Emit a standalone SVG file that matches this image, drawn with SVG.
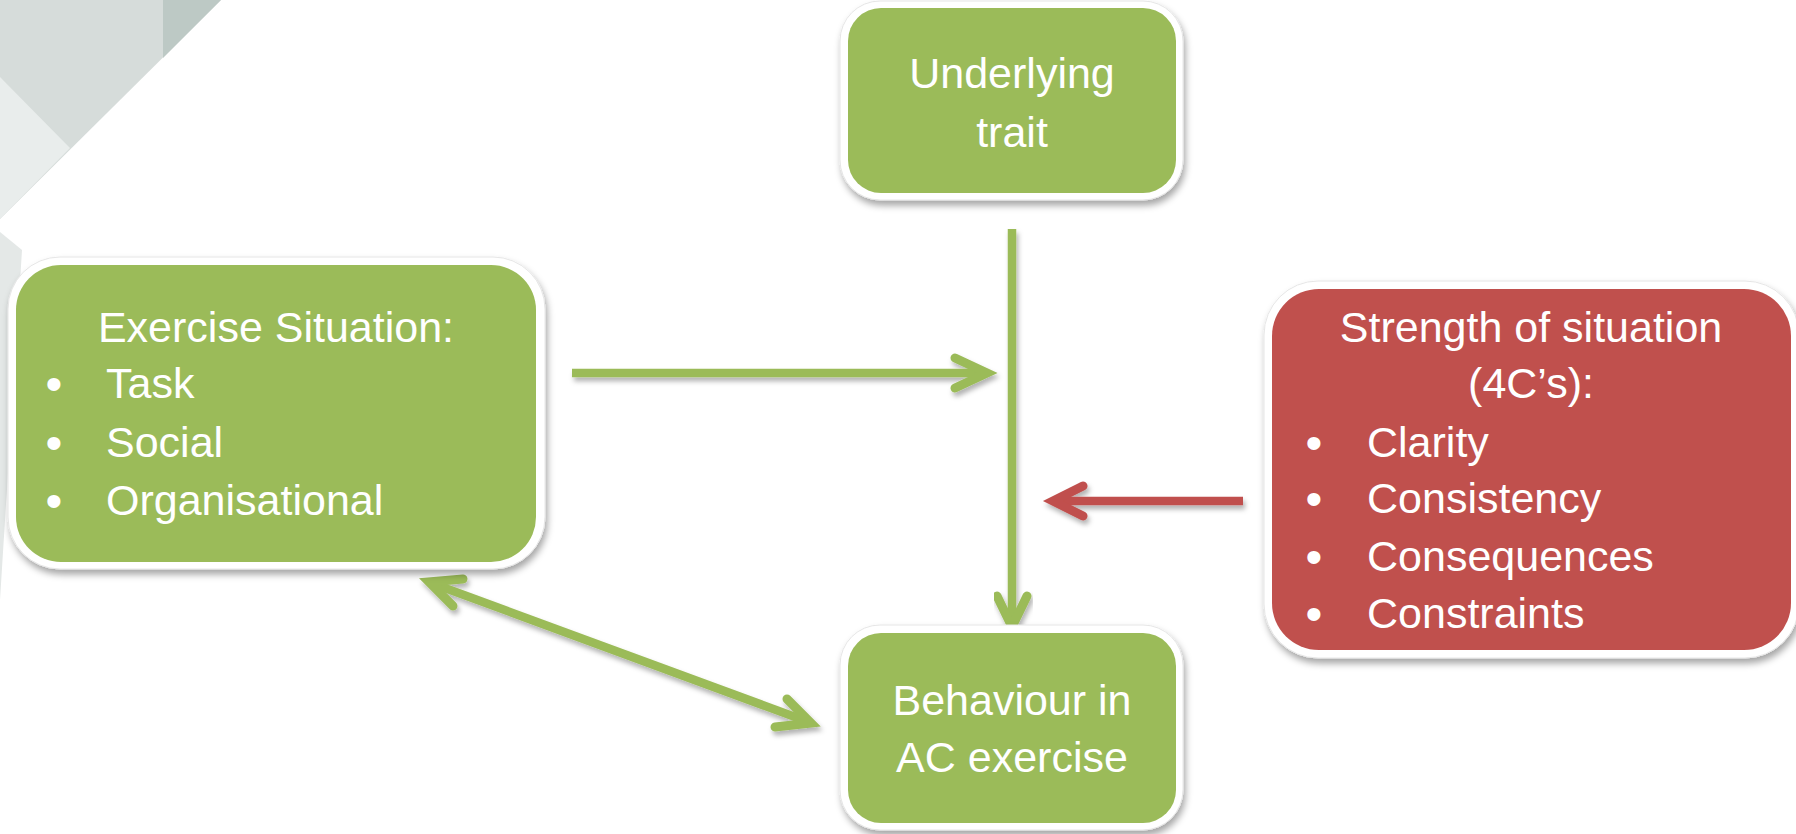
<svg xmlns="http://www.w3.org/2000/svg" width="1796" height="834" viewBox="0 0 1796 834">
  <defs>
    <filter id="shadow" x="-10%" y="-10%" width="130%" height="130%">
      <feDropShadow dx="2" dy="5" stdDeviation="3.5" flood-color="#000" flood-opacity="0.35"/>
    </filter>
    <filter id="ashadow" x="-10%" y="-30%" width="130%" height="180%">
      <feDropShadow dx="2" dy="4" stdDeviation="2.5" flood-color="#000" flood-opacity="0.3"/>
    </filter>
    <style>
      .frame { fill: #ffffff; stroke: #e6e6e6; stroke-width: 1; filter: url(#shadow); }
      .green { fill: #9bbb59; }
      .red { fill: #c0504d; }
      .t { font-family: "Liberation Sans", Arial, sans-serif; fill: #ffffff; font-size: 43px; }
      .c { text-anchor: middle; }
      .b { font-size: 48px; }
      .shaft { fill: none; stroke-width: 8.5; stroke-linecap: butt; }
      .head { fill: none; stroke-width: 9; stroke-linecap: round; stroke-linejoin: miter; stroke-miterlimit: 10; }
      .g { stroke: #9bbb59; }
      .r { stroke: #c0504d; }
    </style>
  </defs>

  <g id="background">
    <rect x="0" y="0" width="1796" height="834" fill="#ffffff"/>
    <polygon points="0,0 221,0 0,219" fill="#d6dcda"/>
    <polygon points="163,0 221,0 163,58" fill="#bdc9c5"/>
    <polygon points="0,77 70,148 0,219" fill="#e9edec"/>
    <polygon points="0,232 22,250 0,600" fill="#e4e8e7"/>
  </g>

  <g id="connectors">
    <g filter="url(#ashadow)">
      <line class="shaft g" x1="572" y1="373" x2="982" y2="373"/>
      <polyline class="head g" points="955,358 987,373 955,388"/>
    </g>
    <g filter="url(#ashadow)">
      <line class="shaft g" x1="1012" y1="229" x2="1012" y2="622"/>
      <polyline class="head g" points="997,596 1012,627 1027,596"/>
    </g>
    <g filter="url(#ashadow)">
      <line class="shaft r" x1="1243" y1="501" x2="1058" y2="501"/>
      <polyline class="head r" points="1083,486 1053,501 1083,516"/>
    </g>
    <g filter="url(#ashadow)">
      <line class="shaft g" x1="434" y1="584" x2="806" y2="721"/>
      <polyline class="head g" points="463,579 429,582 453,606"/>
      <polyline class="head g" points="787,699 811,723 775,727"/>
    </g>
  </g>

  <g id="node-trait">
    <rect class="frame" x="840" y="1" width="343" height="199" rx="40"/>
    <rect class="green" x="848" y="8" width="328" height="185" rx="33"/>
    <text class="t c" x="1012" y="88" font-size="44">Underlying</text>
    <text class="t c" x="1012" y="147" font-size="44">trait</text>
  </g>

  <g id="node-exercise">
    <rect class="frame" x="8" y="257" width="537" height="312" rx="52"/>
    <rect class="green" x="16" y="265" width="520" height="297" rx="45"/>
    <text class="t c" x="276" y="342">Exercise Situation:</text>
    <text class="t c b" x="54" y="400">•</text>
    <text class="t" x="106" y="398">Task</text>
    <text class="t c b" x="54" y="459">•</text>
    <text class="t" x="106" y="457">Social</text>
    <text class="t c b" x="54" y="517">•</text>
    <text class="t" x="106" y="515">Organisational</text>
  </g>

  <g id="node-strength">
    <rect class="frame" x="1264" y="281" width="535" height="377" rx="54"/>
    <rect class="red" x="1272" y="289" width="519" height="361" rx="47"/>
    <text class="t c" x="1531" y="342" font-size="44">Strength of situation</text>
    <text class="t c" x="1531" y="398" font-size="44">(4C’s):</text>
    <text class="t c b" x="1314" y="459">•</text>
    <text class="t" x="1367" y="457">Clarity</text>
    <text class="t c b" x="1314" y="515">•</text>
    <text class="t" x="1367" y="513">Consistency</text>
    <text class="t c b" x="1314" y="573">•</text>
    <text class="t" x="1367" y="571">Consequences</text>
    <text class="t c b" x="1314" y="630">•</text>
    <text class="t" x="1367" y="628">Constraints</text>
  </g>

  <g id="node-behaviour">
    <rect class="frame" x="840" y="625" width="343" height="205" rx="40"/>
    <rect class="green" x="848" y="633" width="328" height="190" rx="33"/>
    <text class="t c" x="1012" y="715" font-size="44">Behaviour in</text>
    <text class="t c" x="1012" y="772" font-size="44">AC exercise</text>
  </g>
</svg>
